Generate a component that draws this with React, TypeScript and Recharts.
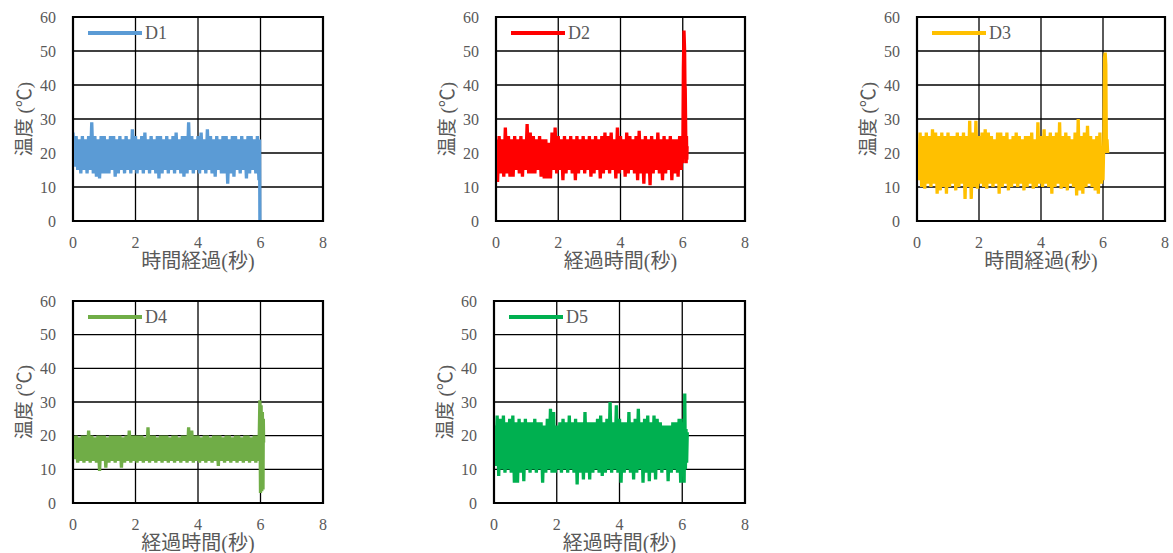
import React from 'react'
import {
  LineChart,
  Line,
  XAxis,
  YAxis,
  CartesianGrid,
  ReferenceArea,
  Legend,
} from 'recharts'

// sampling interval of the logger (s)
const SAMPLE_INTERVAL = 0.05

const X_TICKS = [0, 2, 4, 6, 8]
const Y_TICKS = [0, 10, 20, 30, 40, 50, 60]

const SERIES_NAMES = ['D1', 'D2', 'D3', 'D4', 'D5']
const X_TITLES = ['時間経過(秒)', '経過時間(秒)', '時間経過(秒)', '経過時間(秒)', '経過時間(秒)']
const Y_TITLE = '温度 (℃)'

// 温度 readings, 0 .. 5.95 s
const D1_TEMPS = [
  26, 16, 25, 15, 24, 14, 25, 15, 24, 14, 25, 15, 29, 14, 25, 13, 24, 12.5, 25, 14,
  25, 14, 24, 14, 25, 15, 25, 13, 24, 14, 25, 15, 24, 14, 25, 15, 24, 14, 27, 15,
  25, 14, 24, 15, 25, 14, 26, 15, 24, 14, 25, 15, 24, 14, 25, 12.5, 25, 14, 24, 15,
  25, 14, 24, 15, 25, 14, 26, 15, 24, 14, 25, 13, 25, 14, 29, 15, 25, 14, 24, 15,
  25, 14, 26, 15, 24, 14, 27, 15, 25, 14, 24, 13, 25, 15, 24, 14, 25, 14, 25, 11,
  24, 14, 25, 13, 25, 15, 24, 14, 25, 15, 24, 12.5, 25, 14, 25, 15, 24, 14, 25, 12,
]
const D1_TAIL_TIMES = [5.97, 5.98]
const D1_TAIL_TEMPS = [24, 0]

const D2_TEMPS = [
  24, 11.5, 25, 14, 24, 13, 27.5, 14, 25, 13, 24, 13, 25, 15, 24, 14, 25, 13, 24, 15,
  28.5, 14, 26, 14, 25, 14, 24, 15, 25, 13, 24, 12.5, 24, 12.5, 23, 12.5, 26, 15, 27.5, 14,
  25, 15, 24, 12, 25, 14, 24, 15, 25, 14, 24, 12, 25, 14, 24, 15, 25, 14, 24, 15,
  25, 13, 24, 14, 25, 15, 24, 12.5, 25, 14, 26, 15, 25, 14, 26, 15, 24, 12.5, 27.5, 14,
  25, 15, 24, 13, 26, 14, 25, 15, 24, 14, 25, 12, 26.5, 14, 24, 11, 25, 14, 24, 10.5,
  25, 14, 24, 15, 26, 14, 24, 12, 25, 14, 24, 15, 25, 12, 24, 14, 24, 13, 25, 15,
]
const D2_TAIL_TIMES = [5.97, 6.0, 6.02, 6.04, 6.06, 6.07, 6.08, 6.1, 6.11, 6.12, 6.13, 6.14]
const D2_TAIL_TEMPS = [25, 17, 45, 56, 50, 40, 39, 22, 17, 25, 18, 22]

const D3_TEMPS = [
  22, 12, 26, 10, 25, 9.5, 26, 11, 25, 10, 27, 11, 26, 8, 25, 9, 26, 10, 25, 8,
  26, 10, 25, 11, 25, 9, 26, 10, 25, 11, 26, 6.5, 25, 10, 29.5, 6.5, 26, 10, 29.5, 9.5,
  25, 11, 26, 10, 27, 9.5, 26, 11, 25, 10, 24, 11, 26, 8, 26, 10, 25, 11, 26, 9,
  24, 10, 25, 11, 26, 10, 25, 11, 24, 9, 25, 10, 25, 11, 26, 9.5, 24, 10, 29, 11,
  25, 10, 27, 11, 25, 10, 26, 8, 25, 10, 26, 11, 29, 9.5, 25, 10, 26, 9, 25, 11,
  24, 10, 26, 7.5, 30, 9, 25, 8, 26, 10, 28, 11, 25, 10, 24, 9, 25, 8, 26, 11,
]
const D3_TAIL_TIMES = [5.97, 6.0, 6.03, 6.05, 6.07, 6.09, 6.11, 6.13, 6.15]
const D3_TAIL_TEMPS = [22, 12, 26, 48, 49.5, 46, 20, 24, 20]

const D4_TEMPS = [
  20, 13, 20, 12, 19.5, 12.5, 20, 12, 20, 12.5, 21.5, 12, 20, 12.5, 19.5, 12, 20, 9.5, 20, 12.5,
  20, 10.5, 19.5, 12, 20, 12.5, 20, 12, 20, 12.5, 20, 10.5, 19.5, 12, 20, 12.5, 21.5, 12, 20, 12.5,
  20, 12, 20, 12.5, 20, 12, 19.5, 12.5, 22.5, 12, 20, 12.5, 20, 12, 19.5, 12.5, 20, 12, 20, 12.5,
  20, 12, 19.5, 12.5, 20, 12, 20, 12.5, 19.5, 12, 20, 12.5, 20, 12, 22.5, 12.5, 21.5, 12, 20, 12.5,
  20, 12, 19.5, 12.5, 20, 12, 20, 12.5, 19.5, 12, 20, 12.5, 20, 11, 20, 12.5, 19.5, 12, 20, 12.5,
  20, 12, 19.5, 12.5, 20, 12, 20, 12.5, 19.5, 12, 20, 12.5, 20, 12, 19.5, 12.5, 20, 12, 20, 12.5,
]
const D4_TAIL_TIMES = [5.96, 5.98, 6.0, 6.02, 6.04, 6.06, 6.08, 6.09, 6.1]
const D4_TAIL_TEMPS = [20, 30.5, 3, 29, 3.5, 27, 4, 25, 18]

const D5_TEMPS = [
  23, 11, 26, 8, 25, 10, 26, 9, 24, 10, 25, 9, 26, 6, 24, 6, 25, 9, 24, 6.5,
  25, 10, 24, 9, 24, 10, 25, 9, 24, 10, 24, 6, 23, 9, 25, 10, 28, 9, 27, 9,
  23, 10, 24, 9, 25, 10, 24, 9, 26, 10, 24, 9, 25, 5.5, 24, 9, 24, 7, 27, 9,
  24, 7, 24, 9, 24, 10, 25, 9, 26, 8, 24, 9, 25, 10, 30, 9, 24, 10, 29, 9,
  25, 6, 24, 9, 24, 10, 27, 9, 24, 7, 25, 9, 28, 10, 24, 6, 25, 9, 26, 6.5,
  24, 9, 26, 7, 25, 10, 24, 9, 23, 10, 23, 6.5, 23, 9, 24, 10, 24, 9, 25, 6,
]
const D5_TAIL_TIMES = [5.96, 6.0, 6.03, 6.06, 6.08, 6.1, 6.12, 6.14, 6.16]
const D5_TAIL_TEMPS = [25, 8, 24, 6, 32.5, 10, 22, 12, 21]

const COLORS = ['#5B9BD5', '#FF0000', '#FFC000', '#70AD47', '#00B050']

// plot-area placement of each panel on the page
const PANELS = [
  { temps: D1_TEMPS, tailTimes: D1_TAIL_TIMES, tailTemps: D1_TAIL_TEMPS, x: 73, y: 17, w: 250, h: 204 },
  { temps: D2_TEMPS, tailTimes: D2_TAIL_TIMES, tailTemps: D2_TAIL_TEMPS, x: 496, y: 17, w: 249, h: 204 },
  { temps: D3_TEMPS, tailTimes: D3_TAIL_TIMES, tailTemps: D3_TAIL_TEMPS, x: 917, y: 17, w: 248, h: 204 },
  { temps: D4_TEMPS, tailTimes: D4_TAIL_TIMES, tailTemps: D4_TAIL_TEMPS, x: 73, y: 301, w: 250, h: 202 },
  { temps: D5_TEMPS, tailTimes: D5_TAIL_TIMES, tailTemps: D5_TAIL_TEMPS, x: 494, y: 301, w: 251, h: 202 },
]

const Y_AXIS_W = 73
const RIGHT_PAD = 20
const X_AXIS_H = 50
const GRAY = '#595959'
const SERIF = "'Liberation Serif', 'Times New Roman', serif"
const CJK = "'Liberation Serif', 'Noto Sans CJK JP', sans-serif"

function buildData(temps: number[], tailTimes: number[], tailTemps: number[]) {
  const rows = temps.map((v, i) => ({ t: +(i * SAMPLE_INTERVAL).toFixed(2), v }))
  tailTimes.forEach((t, i) => rows.push({ t, v: tailTemps[i] }))
  return rows
}

function Panel({ index }: { index: number }) {
  const p = PANELS[index]
  const color = COLORS[index]
  const name = SERIES_NAMES[index]
  const data = buildData(p.temps, p.tailTimes, p.tailTemps)
  const left = p.x - Y_AXIS_W
  const top = p.y - 17

  return (
    <>
      <div style={{ position: 'absolute', left, top }}>
        <LineChart
          width={Y_AXIS_W + p.w + RIGHT_PAD}
          height={17 + p.h + X_AXIS_H}
          data={data}
          margin={{ top: 17, right: RIGHT_PAD, bottom: 0, left: 0 }}
        >
          <CartesianGrid stroke="#000" strokeWidth={1.3} horizontal vertical />
          <XAxis
            type="number"
            dataKey="t"
            domain={[0, 8]}
            ticks={X_TICKS}
            height={X_AXIS_H}
            tickLine={false}
            tickSize={0}
            tickMargin={16}
            axisLine={{ stroke: '#000', strokeWidth: 2 }}
            tick={{ fill: GRAY, fontSize: 16, fontFamily: SERIF }}
            allowDataOverflow
          />
          <YAxis
            type="number"
            domain={[0, 60]}
            ticks={Y_TICKS}
            width={Y_AXIS_W}
            tickLine={false}
            tickSize={0}
            tickMargin={17}
            axisLine={{ stroke: '#000', strokeWidth: 2 }}
            tick={{ fill: GRAY, fontSize: 16, fontFamily: SERIF }}
          />
          <ReferenceArea
            x1={0}
            x2={8}
            y1={0}
            y2={60}
            fill="none"
            stroke="#000"
            strokeWidth={2.2}
            ifOverflow="visible"
          />
          <Legend
            layout="vertical"
            align="center"
            verticalAlign="middle"
            wrapperStyle={{ left: Y_AXIS_W + 15, top: 22, width: 100, height: 22 }}
            content={() => (
              <svg width={100} height={22}>
                <line x1={0} y1={11} x2={54} y2={11} stroke={color} strokeWidth={4} />
                <text x={57} y={17} fill={GRAY} fontSize={18} fontFamily={SERIF}>
                  {name}
                </text>
              </svg>
            )}
          />
          <Line
            type="linear"
            dataKey="v"
            name={name}
            stroke={color}
            strokeWidth={3.3}
            dot={false}
            isAnimationActive={false}
          />
        </LineChart>
      </div>
      <div
        style={{
          position: 'absolute',
          left: p.x + p.w / 2,
          top: p.y + p.h + 38,
          transform: 'translate(-50%, -50%)',
          whiteSpace: 'nowrap',
          fontFamily: CJK,
          fontSize: 20,
          color: GRAY,
        }}
      >
        {X_TITLES[index]}
      </div>
      <div
        style={{
          position: 'absolute',
          left: p.x - 51,
          top: p.y + p.h / 2,
          transform: 'translate(-50%, -50%) rotate(-90deg)',
          whiteSpace: 'nowrap',
          fontFamily: CJK,
          fontSize: 19,
          color: GRAY,
        }}
      >
        {Y_TITLE}
      </div>
    </>
  )
}

export default function App() {
  return (
    <div
      style={{
        position: 'fixed',
        left: 0,
        top: 0,
        width: 1173,
        height: 553,
        overflow: 'hidden',
        background: '#fff',
      }}
    >
      {PANELS.map((_, i) => (
        <Panel key={i} index={i} />
      ))}
    </div>
  )
}
